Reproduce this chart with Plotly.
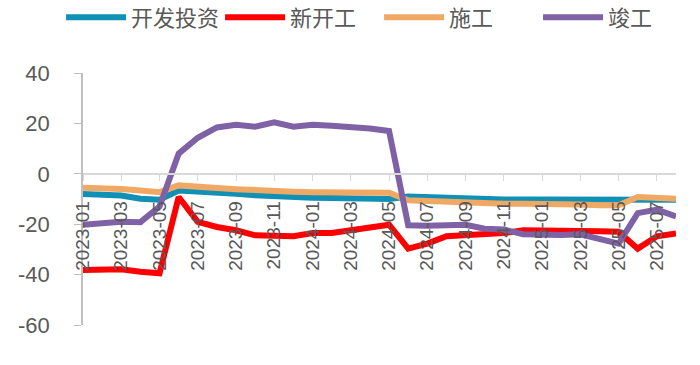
import plotly.graph_objects as go

months = [f"{y}-{m:02d}" for y in (2023, 2024, 2025) for m in range(1, 13)][:32]

invest = [-8.0, -8.3, -8.6, -9.9, -10.3, -6.6, -6.9, -7.3, -7.9, -8.5, -9.0, -9.3,
          -9.5, -9.6, -9.7, -9.8, -10.0, -9.0, -9.3, -9.6, -9.9, -10.1, -10.2, -10.2,
          -10.2, -10.3, -10.3, -10.4, -10.5, -10.0, -10.2, -10.3]
new_start = [-38.2, -38.1, -37.9, -38.9, -39.5, -9.2, -19.1, -21.1, -22.4, -24.4, -24.8, -24.8,
             -23.5, -23.5, -22.4, -21.1, -20.2, -29.7, -27.7, -24.8, -24.4, -24.0, -23.5, -22.4,
             -22.4, -22.4, -22.4, -22.8, -23.0, -29.7, -24.8, -23.7]
construct = [-5.5, -5.6, -6.0, -6.6, -7.3, -4.6, -5.3, -5.6, -6.1, -6.6, -6.9, -7.1,
             -7.3, -7.3, -7.5, -7.5, -7.5, -10.5, -10.8, -10.8, -11.5, -11.9, -11.9, -11.9,
             -11.9, -12.1, -12.2, -12.5, -12.5, -9.2, -9.4, -9.9]
complete = [-20.2, -19.5, -19.0, -19.2, -13.0, 8.0, 14.3, 18.4, 19.5, 18.7, 20.4, 18.7,
            19.5, 19.1, 18.7, 18.0, 17.0, -20.4, -20.6, -20.3, -20.2, -21.8, -22.1, -24.0,
            -24.4, -24.3, -24.0, -25.7, -27.7, -15.6, -14.2, -16.9]

names = ["开发投资", "新开工", "施工", "竣工"]
colors = ["#1190B5", "#FF0000", "#F0A865", "#7F62A6"]
series = [invest, new_start, construct, complete]

yticks = [40, 20, 0, -20, -40, -60]
yticktext = [str(v) for v in yticks]
xtickvals = months[::2]

fig = go.Figure()
for n, c, s in zip(names, colors, series):
    fig.add_trace(go.Scatter(x=months, y=s, name=n, mode="lines",
                             line=dict(color=c, width=6)))

fig.update_layout(
    width=700, height=365,
    margin=dict(l=83, r=24, t=73, b=40, autoexpand=False),
    plot_bgcolor="white", paper_bgcolor="white",
    font=dict(family="Liberation Sans, Noto Sans CJK SC", color="#595959"),
    showlegend=True,
    legend=dict(orientation="h", x=-0.037, xanchor="left",
                y=1.22, yanchor="middle", itemwidth=60,
                font=dict(size=22, family="Noto Sans CJK SC", color="#595959"),
                traceorder="normal", entrywidth=84, entrywidthmode="pixels"),
    xaxis=dict(type="category", categoryorder="array", categoryarray=months,
               range=[0, 31], anchor="free", position=0.6, automargin=False,
               tickmode="array", tickvals=xtickvals, tickangle=-90,
               ticks="outside", ticklen=6, tickcolor="#D9D9D9",
               showline=True, linecolor="#D9D9D9", linewidth=1.5,
               showgrid=False, zeroline=False,
               tickfont=dict(size=19, color="#595959"), ticklabelstandoff=13),
    yaxis=dict(range=[-60, 40], tickmode="array", tickvals=yticks, ticktext=yticktext,
               automargin=False,
               ticks="outside", ticklen=7, tickcolor="#BFBFBF",
               showline=True, linecolor="#BFBFBF", linewidth=1.5,
               showgrid=False, zeroline=False,
               tickfont=dict(size=22, color="#595959"), ticklabelstandoff=20),
)

fig.write_html("out.html", config={"displayModeBar": False},
               post_script="document.body.style.margin='0';document.body.style.overflow='hidden';")
